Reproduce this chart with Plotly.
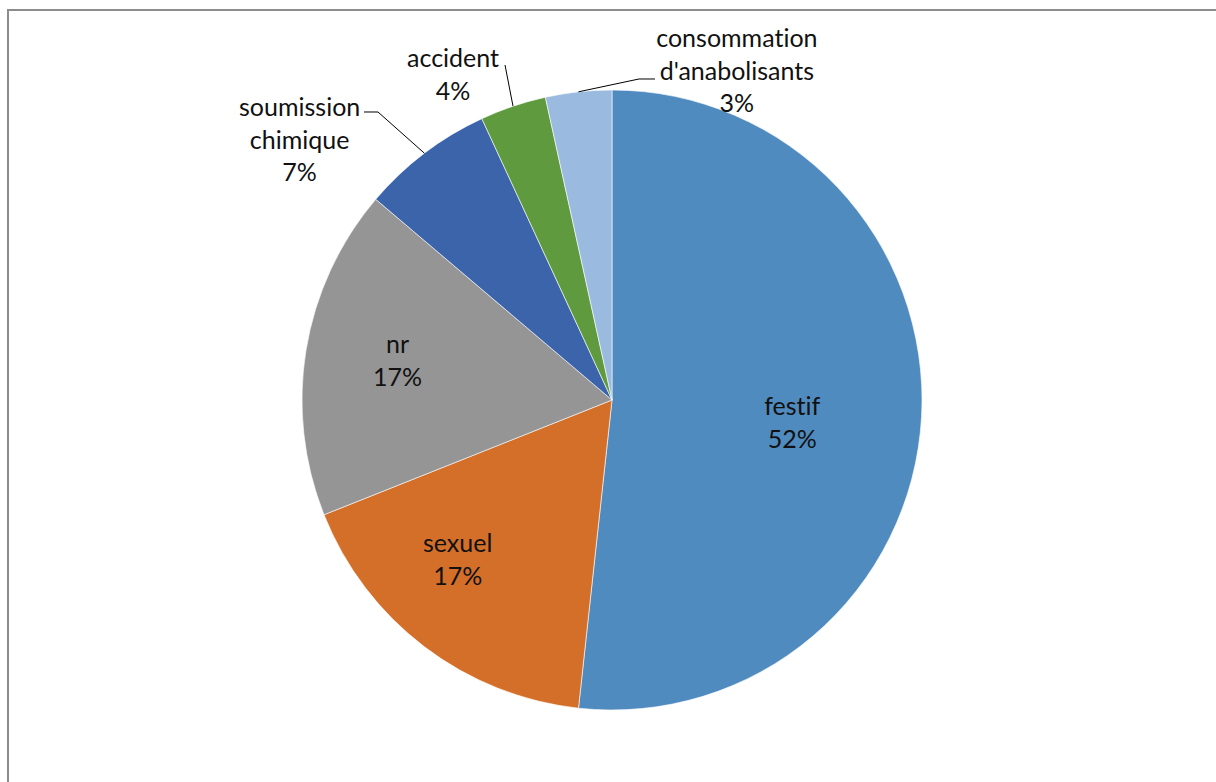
import math
import plotly.graph_objects as go

# ---- data ----
categories = ["festif", "sexuel", "nr", "soumission chimique", "accident", "consommation d'anabolisants"]
label_lines = ["festif", "sexuel", "nr", "soumission<br>chimique", "accident", "consommation<br>d'anabolisants"]
values = [15, 5, 5, 2, 1, 1]
pct_labels = ["52%", "17%", "17%", "7%", "4%", "3%"]
colors = ["#4F8BBF", "#D46F2A", "#959595", "#3C64AA", "#5F9A3F", "#9BBAE0"]

# ---- layout ----
W, H = 1216, 782
CX, CY, R = 612, 400, 310
FONT = dict(family="Lato, 'Open Sans', sans-serif", size=25, color="#111111")

def px(x):
    return x / W

def py(y):
    return 1 - y / H

# label centres (pixel layout) and leader elbows
label_pos = [(792, 422), (457, 558), (397, 360), (299, 138), (453, 73), (737, 69)]
leaders = {3: [(378, 112), (364, 112)], 4: [(505, 65)], 5: [(639, 79), (655, 79)]}

fig = go.Figure(go.Pie(
    labels=categories,
    values=values,
    sort=False,
    direction="clockwise",
    rotation=0,
    marker=dict(colors=colors, line=dict(color="white", width=0.6)),
    textinfo="none",
    hoverinfo="label+percent",
    showlegend=False,
    domain=dict(x=[px(CX - R), px(CX + R)], y=[py(CY + R), py(CY - R)]),
))

total = sum(values)
cum = 0
shapes = [dict(type="rect", xref="paper", yref="paper",
               x0=px(8), x1=1.05, y0=-0.05, y1=py(10),
               line=dict(color="#8C8C8C", width=2), fillcolor="rgba(0,0,0,0)")]
annotations = []
for i, v in enumerate(values):
    mid = (cum + v / 2) / total * 2 * math.pi
    cum += v
    ex = CX + R * math.sin(mid)
    ey = CY - R * math.cos(mid)
    if i in leaders:
        pts = [(ex, ey)] + leaders[i]
        path = "M " + " L ".join(f"{px(a):.5f},{py(b):.5f}" for a, b in pts)
        shapes.append(dict(type="path", xref="paper", yref="paper", path=path,
                           line=dict(color="#000000", width=1)))
    lx, ly = label_pos[i]
    annotations.append(dict(
        x=px(lx), y=py(ly), xref="paper", yref="paper",
        text=f"{label_lines[i]}<br>{pct_labels[i]}",
        showarrow=False, xanchor="center", yanchor="middle",
        align="center", font=FONT,
    ))

fig.update_layout(
    width=W, height=H,
    margin=dict(l=0, r=0, t=0, b=0),
    paper_bgcolor="white",
    plot_bgcolor="white",
    shapes=shapes,
    annotations=annotations,
    font=FONT,
)

post = ("var s=document.createElement('style');"
        "s.innerHTML='html,body{margin:0;padding:0;overflow:hidden;}"
        " text{font-variant-ligatures:none !important;font-feature-settings:\"liga\" 0,\"clig\" 0 !important;}';"
        "document.head.appendChild(s);")
fig.write_html("out.html", post_script=post, config={"displayModeBar": False})
